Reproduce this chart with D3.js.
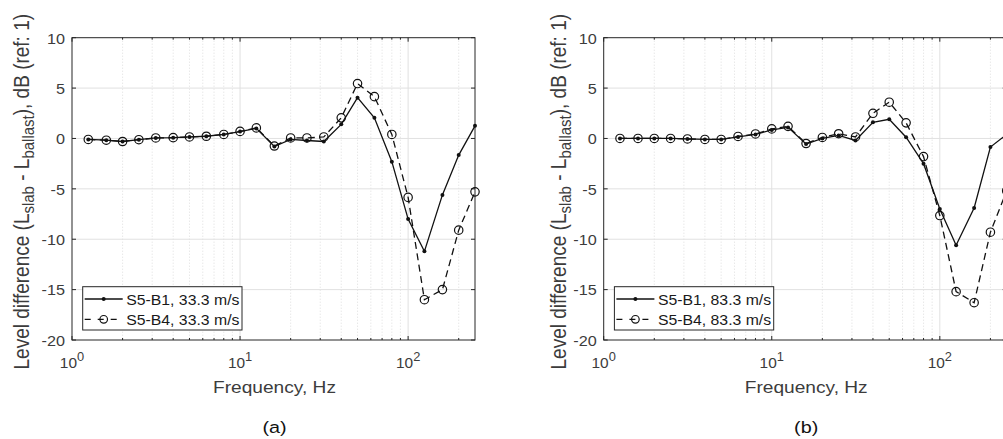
<!DOCTYPE html>
<html><head><meta charset="utf-8">
<script src="https://cdn.jsdelivr.net/npm/d3@7"></script>
<style>
html,body{margin:0;padding:0;background:#fff;overflow:hidden}
svg{display:block}
text{font-family:"Liberation Sans",Arial,Helvetica,sans-serif}
</style></head><body>
<script>
const freqs = [1.25,1.6,2,2.5,3.15,4,5,6.3,8,10,12.5,16,20,25,31.5,40,50,63,80,100,125,160,200,250];
const a_B1 = [-0.1,-0.17,-0.3,-0.12,0.05,0.08,0.15,0.22,0.4,0.68,1.0,-0.8,-0.1,-0.2,-0.3,1.4,4.05,2.05,-2.3,-8.0,-11.2,-5.6,-1.65,1.25];
const a_B4 = [-0.1,-0.17,-0.3,-0.12,0.05,0.08,0.15,0.22,0.4,0.7,1.05,-0.75,0.05,0.05,0.15,2.05,5.45,4.15,0.4,-5.85,-16.0,-15.0,-9.1,-5.3];
const b_B1 = [0,0,0,0,-0.05,-0.1,-0.1,0.15,0.4,0.85,1.1,-0.55,0.0,0.3,-0.2,1.6,1.9,0.12,-2.5,-7.0,-10.6,-6.9,-0.85,0.4];
const b_B4 = [0,0,0,0,-0.05,-0.1,-0.1,0.2,0.45,0.95,1.2,-0.5,0.1,0.47,0.15,2.5,3.6,1.55,-1.8,-7.65,-15.2,-16.3,-9.3,-5.2];
const yTicks = [-20,-15,-10,-5,0,5,10];
const xMajor = [1,10,100];
const xMinor = [2,3,4,5,6,7,8,9,20,30,40,50,60,70,80,90,200];
const seriesNames_a = ["S5-B1, 33.3 m/s","S5-B4, 33.3 m/s"];
const seriesNames_b = ["S5-B1, 83.3 m/s","S5-B4, 83.3 m/s"];
const panels = [
  {left:72, ylabX:28.5, B1:a_B1, B4:a_B4, names:seriesNames_a, caption:"(a)"},
  {left:603.7, ylabX:566, B1:b_B1, B4:b_B4, names:seriesNames_b, caption:"(b)"}
];
const W=1003,H=439, pTop=37.7, pBot=340, pw=403;
const ink="#262626", tink="#3c3c3c";
const svg=d3.select("body").append("svg").attr("width",W).attr("height",H);

function txt(g,x,y,size,sx,anchor){
  return g.append("text").attr("transform",`translate(${x},${y}) scale(${sx},1)`)
    .attr("font-size",size).attr("text-anchor",anchor||"start").attr("fill",tink);
}

panels.forEach(p=>{
  const x=d3.scaleLog().domain([1,250]).range([p.left,p.left+pw]);
  const y=d3.scaleLinear().domain([-20,10]).range([pBot,pTop]);
  const g=svg.append("g");
  g.selectAll(".mg").data(xMinor).join("line")
    .attr("x1",d=>x(d)).attr("x2",d=>x(d)).attr("y1",pTop).attr("y2",pBot)
    .attr("stroke","#d6d6d6").attr("stroke-width",0.8).attr("stroke-dasharray","1,2");
  g.selectAll(".gx").data(xMajor.slice(1)).join("line")
    .attr("x1",d=>x(d)).attr("x2",d=>x(d)).attr("y1",pTop).attr("y2",pBot)
    .attr("stroke","#e1e1e1").attr("stroke-width",1);
  g.selectAll(".gy").data(yTicks.slice(1,-1)).join("line")
    .attr("x1",p.left).attr("x2",p.left+pw).attr("y1",d=>y(d)).attr("y2",d=>y(d))
    .attr("stroke","#e1e1e1").attr("stroke-width",1);
  g.append("rect").attr("x",p.left).attr("y",pTop).attr("width",pw).attr("height",pBot-pTop)
    .attr("fill","none").attr("stroke",ink).attr("stroke-width",1);
  yTicks.forEach(t=>{
    g.append("line").attr("x1",p.left).attr("x2",p.left+4).attr("y1",y(t)).attr("y2",y(t)).attr("stroke",ink);
    g.append("line").attr("x1",p.left+pw).attr("x2",p.left+pw-4).attr("y1",y(t)).attr("y2",y(t)).attr("stroke",ink);
  });
  xMajor.forEach(t=>{
    g.append("line").attr("x1",x(t)).attr("x2",x(t)).attr("y1",pBot).attr("y2",pBot-4).attr("stroke",ink);
    g.append("line").attr("x1",x(t)).attr("x2",x(t)).attr("y1",pTop).attr("y2",pTop+4).attr("stroke",ink);
  });
  xMinor.forEach(t=>{
    g.append("line").attr("x1",x(t)).attr("x2",x(t)).attr("y1",pBot).attr("y2",pBot-2).attr("stroke",ink);
    g.append("line").attr("x1",x(t)).attr("x2",x(t)).attr("y1",pTop).attr("y2",pTop+2).attr("stroke",ink);
  });
  yTicks.forEach(t=>{
    txt(g,p.left-7,y(t)+5.8,15,1.08,"end").text(t);
  });
  xMajor.forEach((t,i)=>{
    const tx=txt(g,x(t),367.7,15,1.03,"middle");
    tx.append("tspan").text("10");
    tx.append("tspan").attr("dy",-7).attr("font-size",12.5).text(String(i));
  });
  txt(g,p.left+pw/2+1,393,16.5,1.16,"middle").text("Frequency, Hz");
  const yl=g.append("text").attr("transform",`translate(${p.ylabX},191.7) scale(1.15,1) rotate(-90)`)
    .attr("text-anchor","middle").attr("font-size",19).attr("fill",tink);
  yl.append("tspan").text("Level difference (L");
  yl.append("tspan").attr("dy",4.5).attr("font-size",15).text("slab");
  yl.append("tspan").attr("dy",-4.5).text(" - L");
  yl.append("tspan").attr("dy",4.5).attr("font-size",15).text("ballast");
  yl.append("tspan").attr("dy",-4.5).text("), dB (ref: 1)");
  txt(svg,p.left+pw/2+1,433.3,16.5,1.2,"middle")
    .attr("font-family","'Liberation Serif','DejaVu Serif',serif").attr("fill","#111").text(p.caption);

  const line=d3.line().x((d,i)=>x(freqs[i])).y(d=>y(d));
  g.append("path").datum(p.B4).attr("d",line).attr("fill","none").attr("stroke","#111")
    .attr("stroke-width",1.3).attr("stroke-dasharray","7,4.5");
  g.selectAll(".c4").data(p.B4).join("circle").attr("cx",(d,i)=>x(freqs[i])).attr("cy",d=>y(d))
    .attr("r",4.2).attr("fill","none").attr("stroke","#111").attr("stroke-width",1.2);
  g.append("path").datum(p.B1).attr("d",line).attr("fill","none").attr("stroke","#111").attr("stroke-width",1.3);
  g.selectAll(".c1").data(p.B1).join("circle").attr("cx",(d,i)=>x(freqs[i])).attr("cy",d=>y(d))
    .attr("r",2).attr("fill","#111");

  const lx=p.left+10.7, ly=286.7, lw=159.3, lh=43.3;
  g.append("rect").attr("x",lx).attr("y",ly).attr("width",lw).attr("height",lh)
    .attr("fill","#fff").attr("stroke",ink).attr("stroke-width",1);
  const rows=[ly+12.3, ly+32.6];
  const sx1=lx+2, sx2=lx+40, sm=(sx1+sx2)/2;
  g.append("line").attr("x1",sx1).attr("x2",sx2).attr("y1",rows[0]).attr("y2",rows[0]).attr("stroke","#111").attr("stroke-width",1.3);
  g.append("circle").attr("cx",sm).attr("cy",rows[0]).attr("r",2).attr("fill","#111");
  g.append("line").attr("x1",sx1).attr("x2",sx2).attr("y1",rows[1]).attr("y2",rows[1]).attr("stroke","#111").attr("stroke-width",1.3).attr("stroke-dasharray","6,7").attr("stroke-dashoffset",0);
  g.append("circle").attr("cx",sm).attr("cy",rows[1]).attr("r",3.8).attr("fill","none").attr("stroke","#111").attr("stroke-width",1.2);
  p.names.forEach((n,i)=>{
    txt(g,lx+43.5,rows[i]+5.6,15.5,1.02,"start").attr("fill","#1a1a1a").text(n);
  });
});
</script>
</body></html>
